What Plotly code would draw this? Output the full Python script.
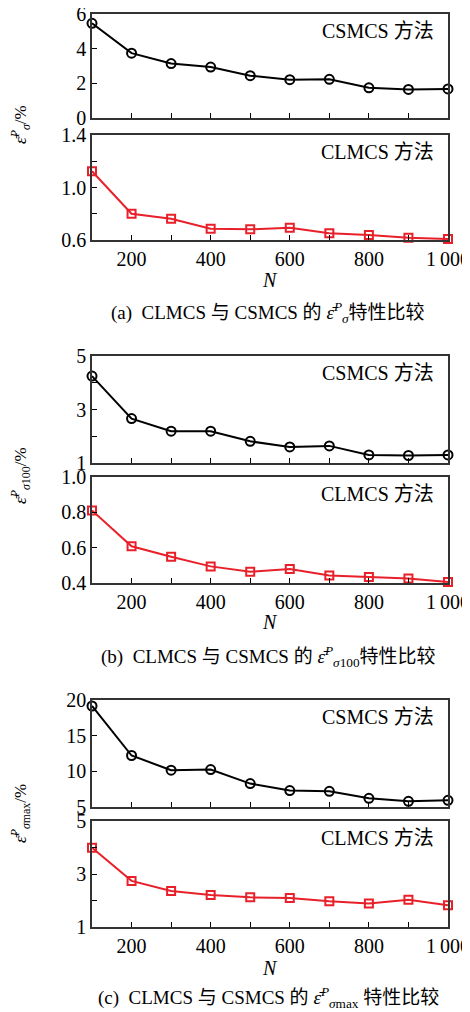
import plotly.graph_objects as go

# The page body has an 8px margin, so the figure is offset by OFF px.
OFF = 8
W, H = 470 - OFF, 1012 - OFF
L, R = 92, 448  # absolute page x of plot area

N = [100, 200, 300, 400, 500, 600, 700, 800, 900, 1000]
x_tickvals = [100, 200, 300, 400, 500, 600, 700, 800, 900, 1000]
x_ticktext = ["", "200", "", "400", "", "600", "", "800", "", "1\u2009000"]

# (a) mean error
a_csmcs = [5.46, 3.74, 3.14, 2.94, 2.44, 2.21, 2.23, 1.74, 1.65, 1.68]
a_clmcs = [1.124, 0.80, 0.762, 0.686, 0.681, 0.694, 0.651, 0.638, 0.618, 0.608]
# (b) 100 error
b_csmcs = [4.25, 2.66, 2.19, 2.19, 1.81, 1.60, 1.64, 1.30, 1.28, 1.30]
b_clmcs = [0.811, 0.608, 0.549, 0.494, 0.464, 0.479, 0.443, 0.434, 0.426, 0.406]
# (c) max error
c_csmcs = [19.16, 12.22, 10.16, 10.25, 8.28, 7.30, 7.20, 6.22, 5.80, 5.94]
c_clmcs = [3.99, 2.74, 2.36, 2.21, 2.12, 2.09, 1.97, 1.89, 2.03, 1.82]

SERIF = "Liberation Serif, Noto Sans CJK SC, serif"
BLACK = "#000000"
RED = "#e8202a"

panels = [
    dict(px=(14, 118), rng=[0, 6], dtick=2, tick0=0, minor=None, fmt="d", y=a_csmcs, kind="cs", xl=False),
    dict(px=(135, 240), rng=[0.6, 1.4], dtick=0.4, tick0=0.6, minor=0.2, fmt=".1f", y=a_clmcs, kind="cl", xl=True),
    dict(px=(356, 463), rng=[1, 5], dtick=2, tick0=1, minor=1, fmt="d", y=b_csmcs, kind="cs", xl=False),
    dict(px=(477, 583), rng=[0.4, 1.0], dtick=0.2, tick0=0.4, minor=None, fmt=".1f", y=b_clmcs, kind="cl", xl=True),
    dict(px=(700, 807), rng=[5, 20], dtick=5, tick0=5, minor=None, fmt="d", y=c_csmcs, kind="cs", xl=False),
    dict(px=(821, 927), rng=[1, 5], dtick=2, tick0=1, minor=1, fmt="d", y=c_clmcs, kind="cl", xl=True),
]

def py(p):
    return 1 - (p - OFF) / H

def pxx(p):
    return (p - L) / (R - L)

fig = go.Figure()
layout = {}
annotations = []
for i, pn in enumerate(panels):
    k = "" if i == 0 else str(i + 1)
    xa, ya = "x" + k, "y" + k
    color = BLACK if pn["kind"] == "cs" else RED
    symbol = "circle-open" if pn["kind"] == "cs" else "square-open"
    fig.add_trace(go.Scatter(
        x=N, y=pn["y"], xaxis=xa, yaxis=ya, mode="lines+markers",
        line=dict(color=color, width=2),
        marker=dict(symbol=symbol, size=9 if pn["kind"] == "cs" else 8,
                    color=color, line=dict(width=2, color=color)),
        cliponaxis=False, showlegend=False))
    layout["xaxis" + k] = dict(
        domain=[0, 1], anchor=ya, range=[100, 1000], automargin=False,
        tickvals=x_tickvals, ticktext=x_ticktext if pn["xl"] else [""] * len(x_tickvals),
        ticks="inside", ticklen=5, tickwidth=1, tickcolor=BLACK,
        showline=True, linecolor="#333333", linewidth=1.5, mirror=True,
        showgrid=False, zeroline=False, ticklabeloverflow="allow",
        tickfont=dict(family=SERIF, size=20, color=BLACK))
    ydict = dict(
        domain=[py(pn["px"][1]), py(pn["px"][0])], anchor=xa, range=pn["rng"], automargin=False,
        tick0=pn["tick0"], dtick=pn["dtick"], tickformat=pn["fmt"],
        ticks="inside", ticklen=5, tickwidth=1, tickcolor=BLACK,
        showline=True, linecolor="#333333", linewidth=1.5, mirror=True,
        showgrid=False, zeroline=False, ticklabeloverflow="allow",
        tickfont=dict(family=SERIF, size=20, color=BLACK))
    if pn["minor"]:
        ydict["minor"] = dict(dtick=pn["minor"], tick0=pn["tick0"], ticks="inside",
                              ticklen=5, tickcolor=BLACK, showgrid=False)
    layout["yaxis" + k] = ydict
    label = "CSMCS 方法" if pn["kind"] == "cs" else "CLMCS 方法"
    annotations.append(dict(
        text=label, xref="paper", yref="paper", x=pxx(436), y=py(pn["px"][0] + 17),
        xanchor="right", yanchor="middle", showarrow=False,
        font=dict(family=SERIF, size=20, color=BLACK)))

for ypix in [280, 622, 968]:
    annotations.append(dict(text="<i>N</i>", xref="paper", yref="paper", x=pxx(270), y=py(ypix),
                            xanchor="center", yanchor="middle", showarrow=False,
                            font=dict(family=SERIF, size=20, color=BLACK)))

captions = [
    ("(a)  CLMCS 与 CSMCS 的 <i>ε̄</i><sup><i>P</i></sup><sub><i>σ</i></sub>特性比较", 313),
    ("(b)  CLMCS 与 CSMCS 的 <i>ε̄</i><sup><i>P</i></sup><sub><i>σ</i>100</sub>特性比较", 656),
    ("(c)  CLMCS 与 CSMCS 的 <i>ε̄</i><sup><i>P</i></sup><sub><i>σ</i>max</sub> 特性比较", 997),
]
for txt, ypix in captions:
    annotations.append(dict(text=txt, xref="paper", yref="paper", x=pxx(268), y=py(ypix),
                            xanchor="center", yanchor="middle", showarrow=False,
                            font=dict(family=SERIF, size=19, color=BLACK)))

ytitles = [
    ("<i>ε̄</i><sup><i>P</i></sup><sub><i>σ</i></sub>/%", 125),
    ("<i>ε̄</i><sup><i>P</i></sup><sub><i>σ</i>100</sub>/%", 476),
    ("<i>ε̄</i><sup><i>P</i></sup><sub><i>σ</i>max</sub>/%", 814),
]
for txt, ypix in ytitles:
    annotations.append(dict(text=txt, xref="paper", yref="paper", x=pxx(20), y=py(ypix),
                            xanchor="center", yanchor="middle", textangle=-90, showarrow=False,
                            font=dict(family=SERIF, size=17, color=BLACK)))

fig.update_layout(
    width=W, height=H,
    margin=dict(l=L - OFF, r=(470 - R), t=0, b=0, autoexpand=False),
    paper_bgcolor="white", plot_bgcolor="white",
    annotations=annotations, **layout)

fig.write_html("out.html")
